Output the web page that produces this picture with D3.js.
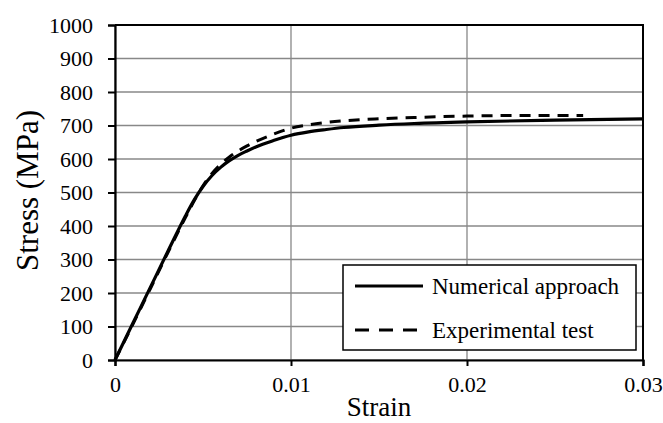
<!DOCTYPE html>
<html>
<head>
<meta charset="utf-8">
<script src="https://cdn.jsdelivr.net/npm/d3@7"></script>
</head>
<body style="margin:0">
<svg id="chart" width="663" height="423" font-family="Liberation Serif"></svg>
<script>
const numStrain = [0, 0.001, 0.002, 0.003, 0.004, 0.0045, 0.005, 0.0055, 0.006, 0.0065, 0.007, 0.0075, 0.008, 0.009, 0.01, 0.011, 0.012, 0.013, 0.015, 0.017, 0.02, 0.025, 0.03];
const numStress = [0, 108, 216, 324, 430, 478, 518, 550, 575, 595, 611, 624, 636, 655, 671, 681, 688, 694, 701, 706, 711, 716, 720];

const expStrain = [0, 0.001, 0.002, 0.003, 0.004, 0.0045, 0.005, 0.0055, 0.006, 0.0065, 0.007, 0.0075, 0.008, 0.009, 0.01, 0.011, 0.012, 0.013, 0.015, 0.017, 0.02, 0.023, 0.0266];
const expStress = [0, 105, 212, 320, 425, 475, 520, 556, 584, 606, 624, 639, 652, 674, 692, 702, 709, 714, 720, 724, 728, 730, 730];

const xTicks = [0, 0.01, 0.02, 0.03];
const yTicks = [0, 100, 200, 300, 400, 500, 600, 700, 800, 900, 1000];
const seriesNames = ["Numerical approach", "Experimental test"];

const margin = { left: 115, right: 20, top: 25, bottom: 63 };
const width = 663, height = 423;

const svg = d3.select("#chart");

const x = d3.scaleLinear().domain([0, 0.03]).range([margin.left, width - margin.right]);
const y = d3.scaleLinear().domain([0, 1000]).range([height - margin.bottom, margin.top]);

function serif(sel, size) {
  return sel.attr("font-family", "Liberation Serif").attr("font-size", size)
    .attr("style", `font-family:'Liberation Serif';font-size:${size}px`)
    .attr("fill", "#000");
}

// grid
svg.append("g")
  .selectAll("line")
  .data(yTicks)
  .join("line")
  .attr("x1", x(0)).attr("x2", x(0.03))
  .attr("y1", d => y(d)).attr("y2", d => y(d))
  .attr("stroke", "#888").attr("stroke-width", 1.3);

svg.append("g")
  .selectAll("line")
  .data(xTicks)
  .join("line")
  .attr("y1", y(0)).attr("y2", y(1000))
  .attr("x1", d => x(d)).attr("x2", d => x(d))
  .attr("stroke", "#888").attr("stroke-width", 1.3);

// frame (top & right)
svg.append("path")
  .attr("d", `M${x(0)},${y(1000)}H${x(0.03)}V${y(0)}`)
  .attr("fill", "none").attr("stroke", "#000").attr("stroke-width", 2);

// axes
const yAxis = svg.append("g")
  .attr("transform", `translate(${x(0)},0)`)
  .call(d3.axisLeft(y).tickValues(yTicks).tickFormat(d3.format("d"))
    .tickSizeOuter(0).tickSize(7).tickPadding(15));
const xAxis = svg.append("g")
  .attr("transform", `translate(0,${y(0)})`)
  .call(d3.axisBottom(x).tickValues(xTicks).tickFormat(d => d === 0 ? "0" : d3.format(".2f")(d))
    .tickSizeOuter(0).tickSize(6).tickPadding(10));

[xAxis, yAxis].forEach(a => {
  a.attr("font-family", "Liberation Serif").attr("font-size", 22);
  a.select(".domain").attr("stroke", "#000").attr("stroke-width", 2.2);
  a.selectAll(".tick line").attr("stroke", "#000").attr("stroke-width", 2);
  serif(a.selectAll(".tick text"), 22);
});

// lines
const line = d3.line().x(d => x(d[0])).y(d => y(d[1])).curve(d3.curveMonotoneX);

svg.append("path")
  .datum(expStrain.map((s, i) => [s, expStress[i]]))
  .attr("d", line)
  .attr("fill", "none").attr("stroke", "#000").attr("stroke-width", 3)
  .attr("stroke-dasharray", "11,8");

svg.append("path")
  .datum(numStrain.map((s, i) => [s, numStress[i]]))
  .attr("d", line)
  .attr("fill", "none").attr("stroke", "#000").attr("stroke-width", 3.2);

// axis titles
serif(svg.append("text"), 27)
  .attr("x", (x(0) + x(0.03)) / 2).attr("y", 416)
  .attr("text-anchor", "middle")
  .text("Strain");

serif(svg.append("text"), 31)
  .attr("transform", `translate(38,190.5) rotate(-90)`)
  .attr("text-anchor", "middle")
  .text("Stress (MPa)");

// legend
const lg = svg.append("g");
lg.append("rect")
  .attr("x", 343).attr("y", 265).attr("width", 293).attr("height", 85)
  .attr("fill", "#fff").attr("stroke", "#000").attr("stroke-width", 1.5);

const rows = [
  { name: seriesNames[0], dash: null, sw: 3.2, ly: 286, ty: 294 },
  { name: seriesNames[1], dash: "14,10", sw: 3, ly: 330, ty: 338 }
];
rows.forEach(r => {
  lg.append("line")
    .attr("x1", 355).attr("x2", 423).attr("y1", r.ly).attr("y2", r.ly)
    .attr("stroke", "#000").attr("stroke-width", r.sw)
    .attr("stroke-dasharray", r.dash);
  serif(lg.append("text"), 23)
    .attr("x", 432).attr("y", r.ty)
    .text(r.name);
});
</script>
</body>
</html>
